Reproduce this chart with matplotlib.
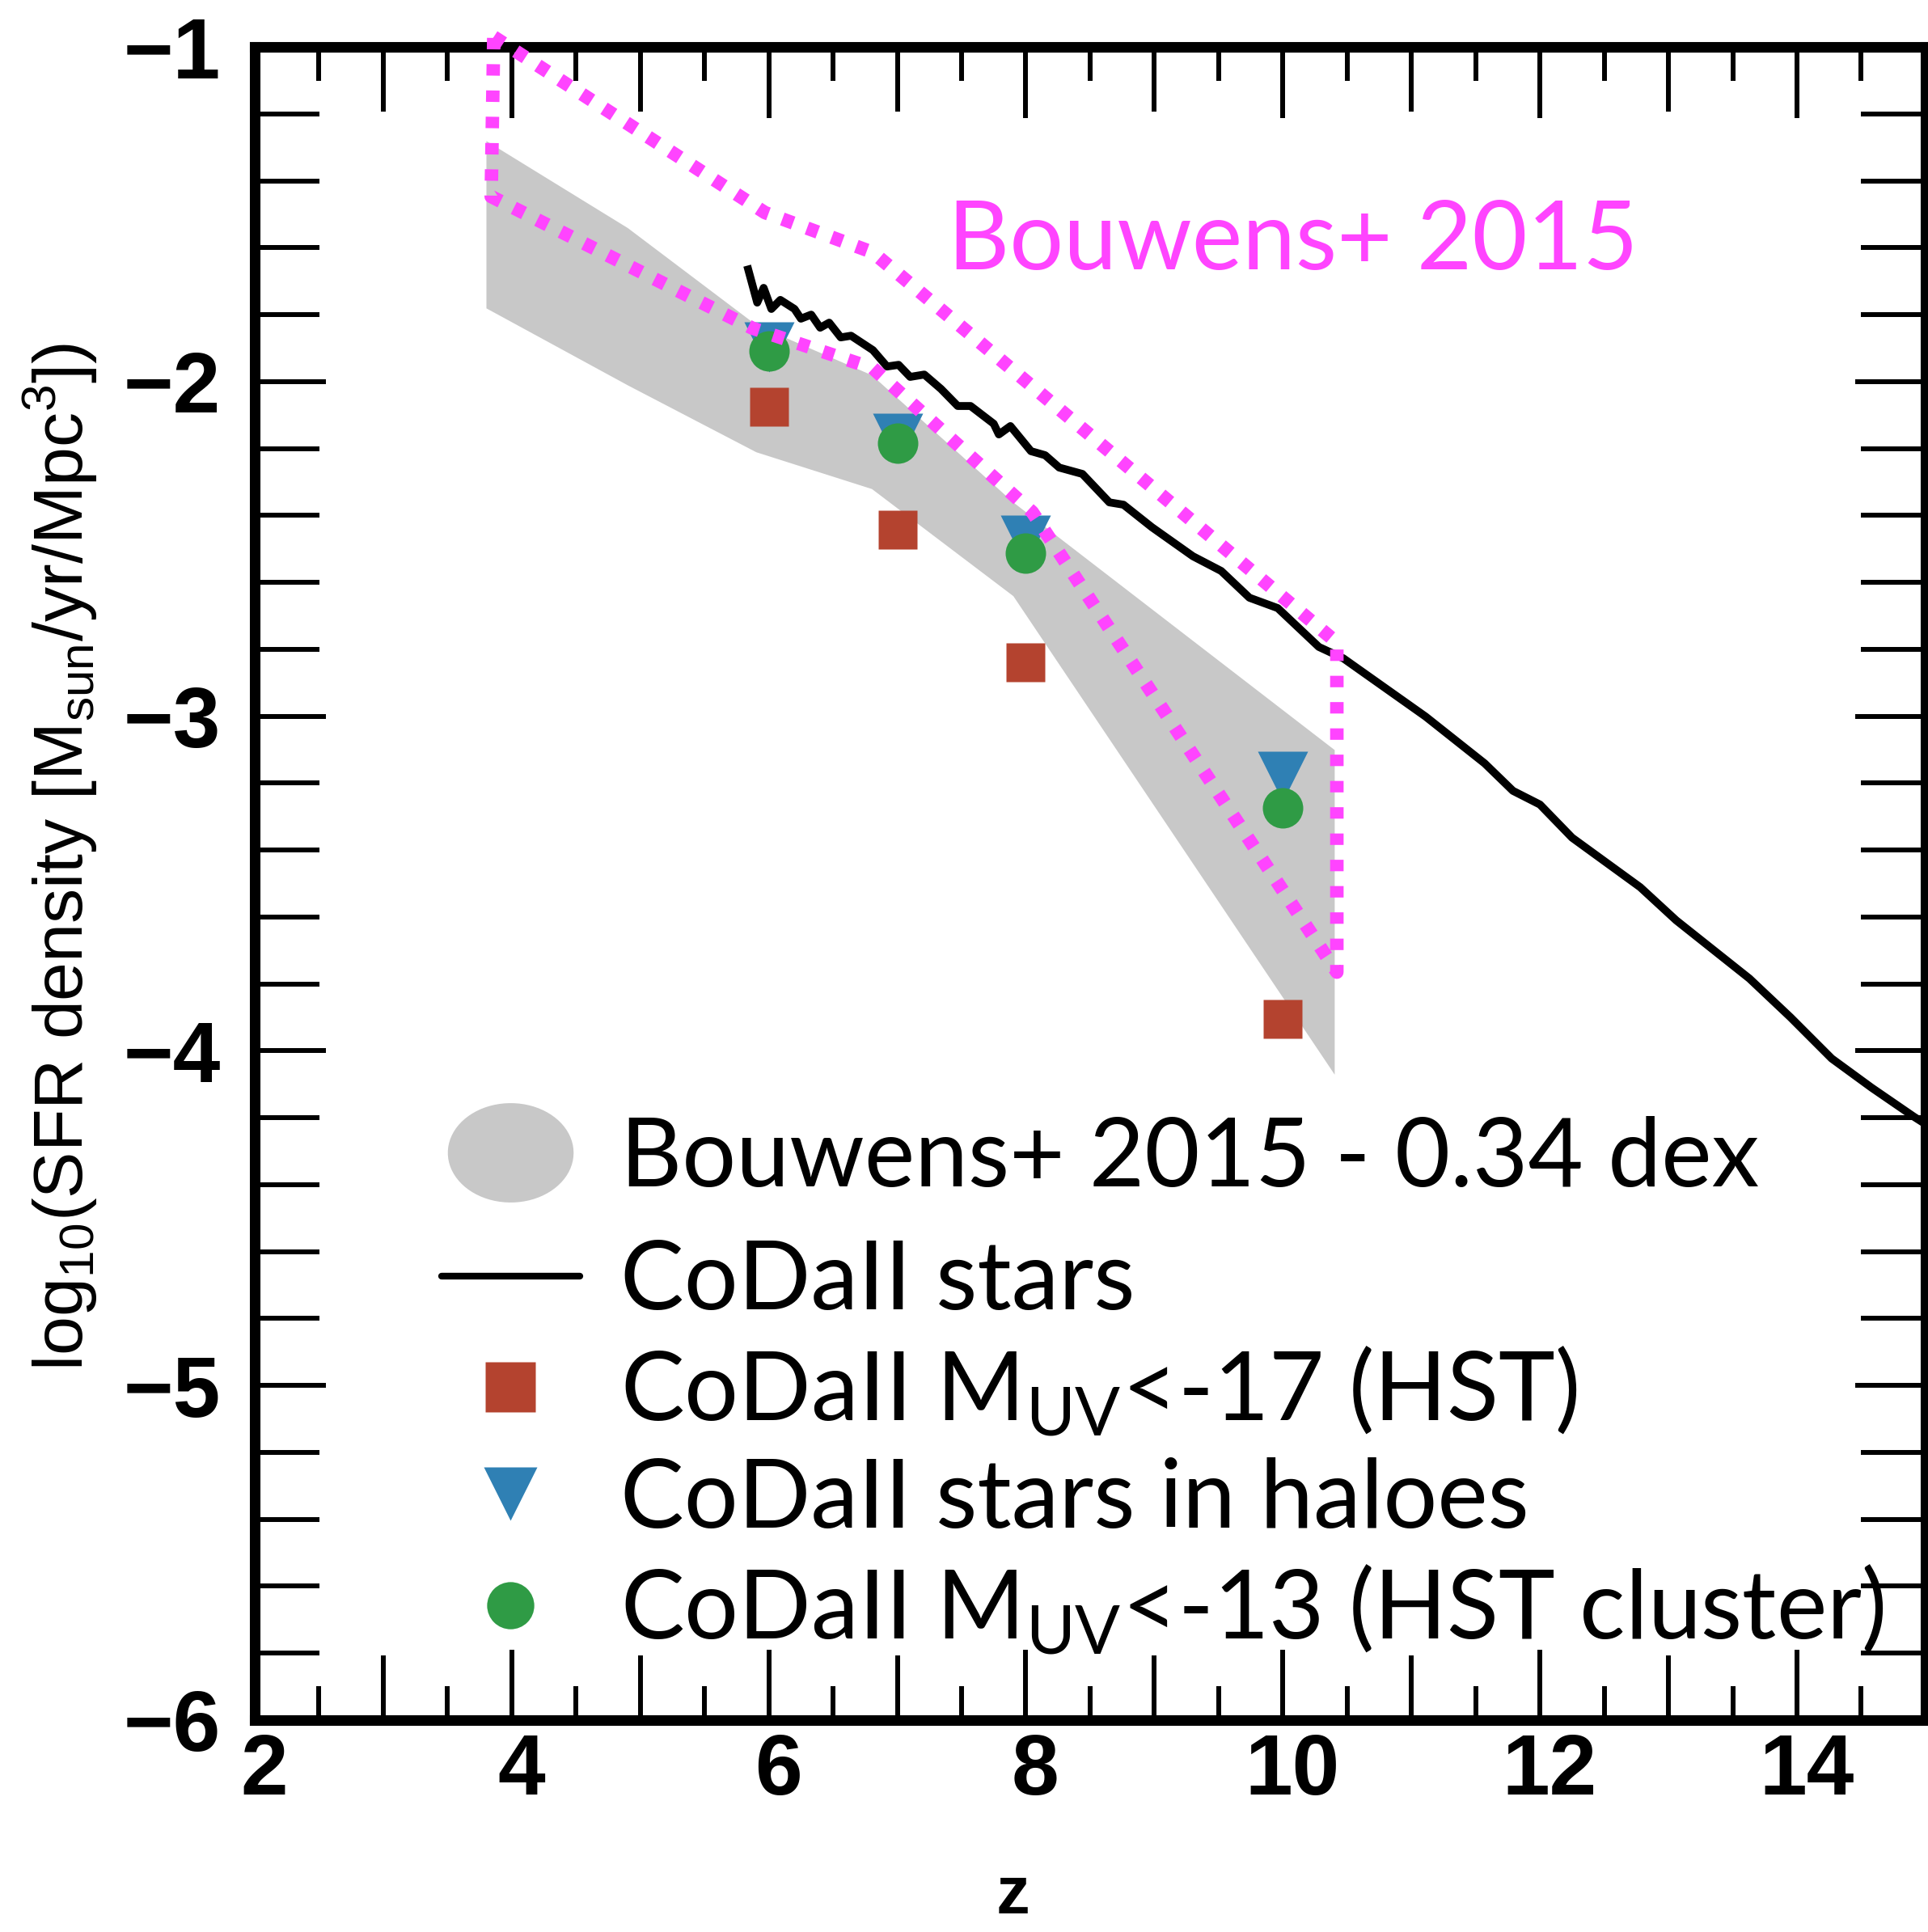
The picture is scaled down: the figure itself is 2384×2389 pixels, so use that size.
import numpy as np
import matplotlib
matplotlib.use("Agg")
import matplotlib.pyplot as plt
from matplotlib import font_manager
from matplotlib.lines import Line2D
from matplotlib.path import Path
from matplotlib.ticker import MultipleLocator
from matplotlib.transforms import ScaledTranslation

# Bouwens+2015 - 0.34 dex (grey band)
band_z = [3.8, 4.9, 5.9, 6.8, 7.9, 10.4]
band_hi = [-1.28, -1.54, -1.83, -1.98, -2.36, -3.10]
band_lo = [-1.78, -2.01, -2.21, -2.32, -2.64, -4.07]

# Bouwens+2015 outline (pink dotted polygon)
bouwens_z = [3.86, 5.97, 6.81, 10.42, 10.42, 8.05, 6.81, 5.87, 3.84, 3.86]
bouwens_y = [-0.97, -1.495, -1.614, -2.78, -3.765, -2.39, -1.96, -1.84, -1.447, -0.97]

# CoDaII stars (black line)
stars_z = [5.84, 5.91, 5.96, 6.02, 6.09, 6.20, 6.25, 6.33, 6.40, 6.47, 6.56, 6.64,
           6.81, 6.92, 7.01, 7.10, 7.21, 7.34, 7.47, 7.57, 7.75, 7.79, 7.88, 8.04,
           8.15, 8.26, 8.44, 8.65, 8.76, 8.98, 9.30, 9.52, 9.74, 9.96, 10.28, 10.47,
           10.79, 11.11, 11.57, 11.79, 12.00, 12.25, 12.78, 13.06, 13.63, 13.95,
           14.27, 14.58, 14.91, 15.0]
stars_y = [-1.665, -1.764, -1.720, -1.783, -1.756, -1.783, -1.812, -1.800, -1.839,
           -1.824, -1.868, -1.863, -1.906, -1.955, -1.950, -1.986, -1.979, -2.022,
           -2.073, -2.073, -2.126, -2.158, -2.133, -2.208, -2.220, -2.257, -2.276,
           -2.361, -2.368, -2.435, -2.522, -2.566, -2.646, -2.677, -2.793, -2.827,
           -2.914, -3.001, -3.141, -3.223, -3.264, -3.363, -3.511, -3.610, -3.784,
           -3.900, -4.023, -4.110, -4.197, -4.219]

# CoDaII point estimates
pts_z = [6, 7, 8, 10]
muv17 = [-2.075, -2.443, -2.84, -3.905]
haloes = [-1.897, -2.17, -2.474, -3.18]
muv13 = [-1.909, -2.184, -2.513, -3.274]

pink = "#ff44ff"
grey = "#c8c8c8"
red = "#b4432f"
blue = "#2f80b4"
green = "#2f9b45"

avail = {f.name for f in font_manager.fontManager.ttflist}
tick_font = "Liberation Sans Narrow" if "Liberation Sans Narrow" in avail else "Liberation Sans"
label_font = "Liberation Sans"
leg_font = "Lato"

fig = plt.figure(figsize=(23.84, 23.89), dpi=100)
ax = fig.add_axes([0.1321, 0.1097, 0.8666, 0.866])

ax.fill_between(band_z, band_lo, band_hi, color=grey, lw=0, zorder=1)
ax.plot(stars_z, stars_y, color="k", lw=7, zorder=3)
ax.plot(pts_z, muv17, ls="none", marker="s", ms=34, mfc=red, mec="none", zorder=4)
ax.plot(pts_z, haloes, ls="none", marker="v", ms=45, mfc=blue, mec="none", zorder=4)
ax.plot(pts_z, muv13, ls="none", marker="o", ms=36, mfc=green, mec="none", zorder=5)
ax.plot(bouwens_z, bouwens_y, color=pink, lw=12, ls=(0, (0.85, 1.1)),
        dash_capstyle="butt", clip_on=False, zorder=6)
ax.text(7.39, -1.665, "Bouwens+ 2015", color=pink, fontsize=85,
        family=leg_font, va="baseline", zorder=7)

ax.set_xlim(2, 15)
ax.set_ylim(-6, -1)

# ticks
xt = np.arange(2, 15)
ax.set_xticks(xt)
ax.set_xticklabels([str(v) if v % 2 == 0 else "" for v in xt])
ax.xaxis.set_minor_locator(MultipleLocator(0.5))
ax.set_yticks(np.arange(-6, 0, 1))
ax.yaxis.set_minor_locator(MultipleLocator(0.2))

ax.tick_params(which="both", direction="in", top=True, right=True, width=4.3, color="k")
ax.tick_params(axis="y", which="major", length=63, pad=30, labelsize=76)
ax.tick_params(axis="y", which="minor", length=57.5)
ax.tick_params(axis="x", which="major", length=63, pad=11, labelsize=76)
ax.tick_params(axis="x", which="minor", length=30)
for t, v in zip(ax.xaxis.get_major_ticks(), xt):
    if v % 2 == 1:
        t.tick1line.set_markersize(57.5)
        t.tick2line.set_markersize(57.5)

for lab in ax.get_xticklabels() + ax.get_yticklabels():
    lab.set_family(tick_font)
    lab.set_weight("bold")
shift = ScaledTranslation(0.12, 0, fig.dpi_scale_trans)
for lab in ax.get_xticklabels():
    lab.set_transform(lab.get_transform() + shift)

for sp in ax.spines.values():
    sp.set_linewidth(9.4)

ax.set_xlabel("z", fontsize=60, fontweight="bold", family=tick_font)
ax.xaxis.set_label_coords(0.454, -0.1155)
ax.xaxis.label.set_va("baseline")
ax.set_ylabel(r"log$_\mathregular{10}$(SFR density [M$_\mathregular{sun}$/yr/Mpc$^\mathregular{3}$])",
              fontsize=62, family=label_font)
ax.yaxis.set_label_coords(-0.1026, 0.516)
ax.yaxis.label.set_va("baseline")

# legend
th = np.linspace(0, 2 * np.pi, 80)
ellipse = Path(np.column_stack([np.cos(th), 0.79 * np.sin(th)]))
h_band = Line2D([], [], ls="none", marker=ellipse, ms=112, mfc=grey, mec="none")
h_line = Line2D([], [], color="k", lw=6, solid_capstyle="round")
h_sq = Line2D([], [], ls="none", marker="s", ms=45, mfc=red, mec="none")
h_tri = Line2D([], [], ls="none", marker="v", ms=48, mfc=blue, mec="none")
h_circ = Line2D([], [], ls="none", marker="o", ms=42, mfc=green, mec="none")

leg_kw = dict(frameon=False, handlelength=1.45, handletextpad=0.42, borderpad=0,
              borderaxespad=0, prop={"family": leg_font, "size": 85})
leg1 = ax.legend([h_band], ["Bouwens+ 2015 - 0.34 dex"], loc="center left",
                 bbox_to_anchor=(0.1118, 0.3354), **leg_kw)
ax.add_artist(leg1)
ax.legend([h_line, h_sq, h_tri, h_circ],
          ["CoDaII stars", r"CoDaII M$_\mathregular{UV}$<-17 (HST)",
           "CoDaII stars in haloes", r"CoDaII M$_\mathregular{UV}$<-13 (HST cluster)"],
          loc="upper left", bbox_to_anchor=(0.1118, 0.2876), labelspacing=0.2, **leg_kw)

fig.savefig("out.png", dpi=100)
